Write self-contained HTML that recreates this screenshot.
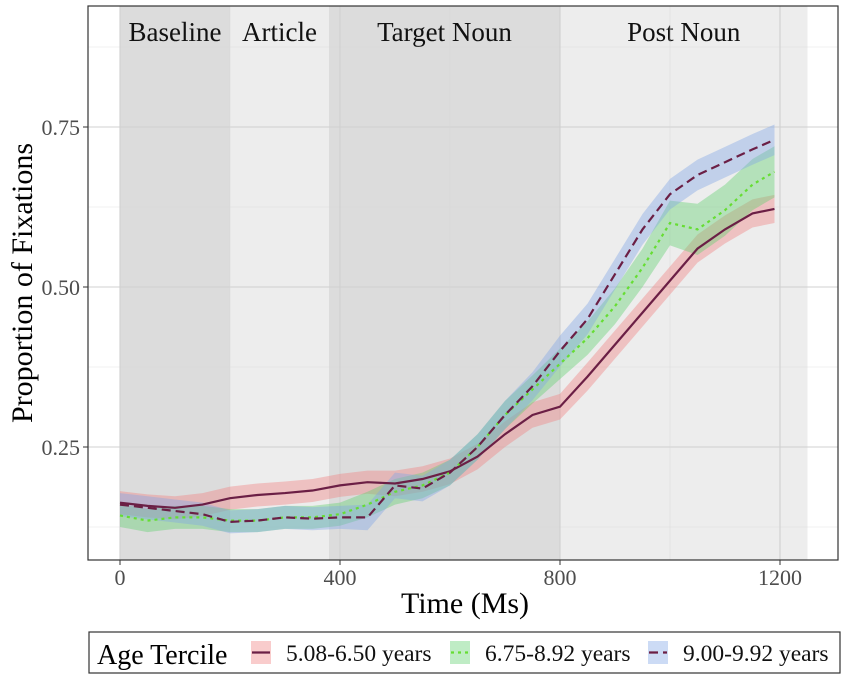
<!DOCTYPE html>
<html><head><meta charset="utf-8">
<style>
body{margin:0;background:#fff;}
svg{display:block;font-family:"Liberation Serif",serif;}
</style></head>
<body>
<svg id="chart" width="851" height="680" xmlns="http://www.w3.org/2000/svg"></svg>
<script>
const times=[0,50,100,150,200,250,300,350,400,450,500,550,600,650,700,750,800,850,900,950,1000,1050,1100,1150,1190];
const young=[0.163,0.158,0.155,0.16,0.17,0.175,0.178,0.182,0.19,0.195,0.193,0.2,0.212,0.235,0.27,0.30,0.313,0.36,0.41,0.46,0.51,0.56,0.59,0.615,0.622];
const middle=[0.143,0.135,0.14,0.14,0.135,0.135,0.14,0.14,0.145,0.16,0.18,0.19,0.21,0.25,0.30,0.34,0.38,0.42,0.47,0.53,0.60,0.59,0.62,0.66,0.68];
const older=[0.16,0.155,0.15,0.145,0.133,0.135,0.14,0.138,0.14,0.14,0.19,0.185,0.21,0.25,0.30,0.345,0.40,0.45,0.52,0.59,0.645,0.675,0.695,0.715,0.73];
const youngSe=[0.018,0.018,0.018,0.018,0.018,0.018,0.018,0.018,0.018,0.018,0.02,0.02,0.02,0.02,0.02,0.02,0.02,0.022,0.022,0.022,0.022,0.022,0.022,0.022,0.022];
const middleSe=[0.018,0.018,0.018,0.018,0.018,0.018,0.018,0.018,0.018,0.02,0.02,0.02,0.02,0.02,0.022,0.022,0.024,0.026,0.028,0.03,0.035,0.04,0.04,0.04,0.04];
const olderSe=[0.018,0.018,0.018,0.018,0.018,0.018,0.018,0.018,0.018,0.02,0.02,0.02,0.02,0.02,0.022,0.022,0.024,0.024,0.024,0.024,0.024,0.024,0.024,0.024,0.024];
const regionNames=["Baseline","Article","Target Noun","Post Noun"];
const regionStart=[0,200,380,800];
const regionEnd=[200,380,800,1250];
const xTicks=[0,400,800,1200];
const yTicks=[0.25,0.5,0.75];
const yTickLabels=["0.25","0.50","0.75"];
const legendLabels=["5.08-6.50 years","6.75-8.92 years","9.00-9.92 years"];

const X=t=>120+t*0.55;
const Y=v=>447-(v-0.25)*640;
const NS="http://www.w3.org/2000/svg";
const svg=document.getElementById('chart');
function mk(tag,attrs,parent){const e=document.createElementNS(NS,tag);for(const k in attrs)e.setAttribute(k,attrs[k]);(parent||svg).appendChild(e);return e;}

const P={l:88,t:6,r:838,b:560};
let e;
e=mk('rect',{x:P.l,y:P.t,width:P.r-P.l,height:P.b-P.t,fill:'#fff'});


regionNames.forEach((n,i)=>{
  const r=mk('rect',{x:X(regionStart[i]),y:P.t,width:X(regionEnd[i])-X(regionStart[i]),height:P.b-P.t,fill:i%2==0?'#dcdcdc':'#ededed'});
  
  
  const t=mk('text',{x:(X(regionStart[i])+X(regionEnd[i]))/2,y:41,'text-anchor':'middle','font-size':27,fill:'#111'});
  t.textContent=n;
  
  
});
[0.125,0.375,0.625,0.875].forEach(v=>{e=mk('line',{x1:P.l,x2:P.r,y1:Y(v),y2:Y(v),stroke:'#d8d8d8','stroke-width':0.6,opacity:0.7});

});
yTicks.forEach(v=>{e=mk('line',{x1:P.l,x2:P.r,y1:Y(v),y2:Y(v),stroke:'#d0d0d0','stroke-width':1.1});

});
[200,600,1000].forEach(v=>{e=mk('line',{x1:X(v),x2:X(v),y1:P.t,y2:P.b,stroke:'#d8d8d8','stroke-width':0.6,opacity:0.7});

});
xTicks.forEach(v=>{e=mk('line',{x1:X(v),x2:X(v),y1:P.t,y2:P.b,stroke:'#d0d0d0','stroke-width':1.1});

});

const series=[
 {v:young,se:youngSe,fill:'#f08080',line:'#6b1f45',dash:''},
 {v:middle,se:middleSe,fill:'#5fcf6f',line:'#66dd33',dash:'3,4'},
 {v:older,se:olderSe,fill:'#7fa6e6',line:'#6b1f45',dash:'9,5'}];
const names=['young','middle','older'];
series.forEach((s,i)=>{
  let up=times.map((t,j)=>X(t)+','+Y(s.v[j]+s.se[j]));
  let dn=times.map((t,j)=>X(t)+','+Y(s.v[j]-s.se[j])).reverse();
  const r=mk('polygon',{points:up.concat(dn).join(' '),fill:s.fill,'fill-opacity':0.4});
  
  
});
series.forEach((s,i)=>{
  const l=mk('polyline',{points:times.map((t,j)=>X(t)+','+Y(s.v[j])).join(' '),fill:'none',stroke:s.line,'stroke-width':2.2,'stroke-dasharray':s.dash});
  
  
});
e=mk('rect',{x:P.l,y:P.t,width:P.r-P.l,height:P.b-P.t,fill:'none',stroke:'#333','stroke-width':1.2});


xTicks.forEach(v=>{
  e=mk('line',{x1:X(v),x2:X(v),y1:P.b,y2:P.b+5,stroke:'#333'});
  
  
  const t=mk('text',{x:X(v),y:585,'text-anchor':'middle','font-size':22,fill:'#4d4d4d'});t.textContent=v;
  
  
});
yTicks.forEach((v,i)=>{
  e=mk('line',{x1:P.l-5,x2:P.l,y1:Y(v),y2:Y(v),stroke:'#333'});
  
  
  const t=mk('text',{x:P.l-8,y:Y(v)+8,'text-anchor':'end','font-size':22,fill:'#4d4d4d'});t.textContent=yTickLabels[i];
  
  
});
e=mk('text',{x:465,y:613,'text-anchor':'middle','font-size':30,fill:'#000'});e.textContent='Time (Ms)';


e=mk('text',{x:0,y:0,transform:'translate(32,283) rotate(-90)','text-anchor':'middle','font-size':30,fill:'#000'});e.textContent='Proportion of Fixations';


const lg=mk('g',{});


mk('rect',{x:89,y:632,width:751,height:41,fill:'#fff',stroke:'#333','stroke-width':1.2},lg);
e=mk('text',{x:97,y:664,'font-size':28,fill:'#000'},lg);e.textContent='Age Tercile';


const lx=[251,450,648];
series.forEach((s,i)=>{
  const g=mk('g',{},lg);
  
  
  mk('rect',{x:lx[i],y:641,width:20,height:23,fill:s.fill,'fill-opacity':0.4},g);
  mk('line',{x1:lx[i]+1,x2:lx[i]+19,y1:652.5,y2:652.5,stroke:s.line,'stroke-width':2.2,'stroke-dasharray':s.dash},g);
  const t=mk('text',{x:lx[i]+35,y:661,'font-size':23.5,fill:'#111'},g);t.textContent=legendLabels[i];
});
</script>
</body></html>
